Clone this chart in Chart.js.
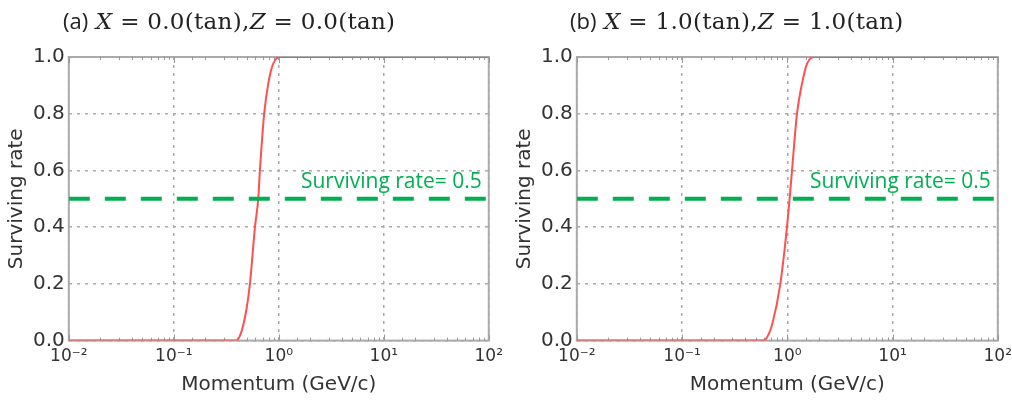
<!DOCTYPE html>
<html>
<head>
<meta charset="utf-8">
<script src="https://cdn.jsdelivr.net/npm/chart.js@4/dist/chart.umd.min.js"></script>
<style>
  body { margin: 0; background: #fff; width: 1012px; height: 403px; position: relative; overflow: hidden; }
  .panel { position: absolute; top: 0; height: 403px; }
  .title { position: absolute; top: 5px; font-family: "DejaVu Serif", serif; font-size: 23px; color: #222; white-space: nowrap; letter-spacing: 0.3px; }
  .title .lab { font-family: "Open Sans", sans-serif; font-size: 22px; letter-spacing: 0; }
  .title i { font-style: italic; }
</style>
</head>
<body>
<div class="panel" style="left:0px"><canvas id="chartA" width="509" height="403"></canvas></div>
<div class="panel" style="left:508px"><canvas id="chartB" width="510" height="403"></canvas></div>
<div class="title" style="left:63px"><span class="lab">(a)</span> <i>X</i> = 0.0(tan),<i>Z</i> = 0.0(tan)</div>
<div class="title" style="left:570px"><span class="lab">(b)</span> <i>X</i> = 1.0(tan),<i>Z</i> = 1.0(tan)</div>
<script>
// -------------------- Data --------------------
// momentum in GeV/c
const momentumA = [0.01, 0.1, 0.397, 0.43, 0.459, 0.494, 0.531, 0.593, 0.637, 0.661, 0.726, 0.794, 0.883, 1.023, 100];
const survivingA = [0, 0, 0, 0.02, 0.055, 0.114, 0.2, 0.4, 0.5, 0.6, 0.8, 0.906, 0.976, 1, 1];

const momentumB = [0.01, 0.1, 0.596, 0.66, 0.716, 0.859, 0.993, 1.052, 1.109, 1.236, 1.38, 1.538, 1.84, 100];
const survivingB = [0, 0, 0, 0.02, 0.055, 0.2, 0.4, 0.5, 0.6, 0.8, 0.906, 0.976, 1, 1];

const thresholdRate = 0.5;
const thresholdLabel = "Surviving rate= 0.5";
const xRange = [0.01, 100];
const yTicks = [0, 0.2, 0.4, 0.6, 0.8, 1.0];

const supers = { "-": "⁻", "0": "⁰", "1": "¹", "2": "²", "3": "³" };

function isPow10(v) {
  const l = Math.log10(v);
  return Math.abs(l - Math.round(l)) < 1e-9;
}

function powLabel(v) {
  const e = String(Math.round(Math.log10(v)));
  return "10" + e.split("").map(ch => supers[ch]).join("");
}

// -------------------- Plugins --------------------
const frame = {
  id: "frame",
  beforeDatasetsDraw(chart) {
    const { ctx, chartArea: a, scales } = chart;
    ctx.save();
    ctx.strokeStyle = "#aaa";
    ctx.lineWidth = 2;
    ctx.strokeRect(a.left, a.top, a.right - a.left, a.bottom - a.top);
    // small inside ticks on the log axis
    ctx.lineWidth = 1;
    ctx.strokeStyle = "#999";
    scales.x.ticks.forEach(t => {
      const px = Math.round(scales.x.getPixelForValue(t.value)) + 0.5;
      const len = isPow10(t.value) ? 6 : 3;
      ctx.beginPath();
      ctx.moveTo(px, a.bottom); ctx.lineTo(px, a.bottom - len);
      ctx.moveTo(px, a.top); ctx.lineTo(px, a.top + len);
      ctx.stroke();
    });
    ctx.restore();
  },
  afterDatasetsDraw(chart) {
    const { ctx, chartArea: a, scales } = chart;
    ctx.save();
    ctx.fillStyle = "#00b050";
    ctx.font = "21px 'Open Sans'";
    ctx.textAlign = "right";
    ctx.textBaseline = "alphabetic";
    ctx.fillText(thresholdLabel, a.right - 7, scales.y.getPixelForValue(thresholdRate) - 11);
    ctx.restore();
  }
};

// -------------------- Charts --------------------
function makeChart(id, xs, ys) {
  const curve = xs.map((x, i) => ({ x: x, y: ys[i] }));
  const line = xRange.map(x => ({ x: x, y: thresholdRate }));
  return new Chart(document.getElementById(id), {
    type: "line",
    data: {
      datasets: [
        {
          data: line,
          borderColor: "#00b050",
          borderWidth: 4,
          borderDash: [21, 15],
          pointRadius: 0,
        },
        {
          data: curve,
          borderColor: "#ff5050",
          borderWidth: 2,
          pointRadius: 0,
          cubicInterpolationMode: "monotone",
        },
      ],
    },
    options: {
      responsive: false,
      animation: false,
      layout: { padding: { left: 5, right: 7, top: 57, bottom: 6 } },
      plugins: { legend: { display: false }, tooltip: { enabled: false } },
      scales: {
        x: {
          type: "logarithmic",
          min: xRange[0],
          max: xRange[1],
          grid: {
            drawTicks: false,
            color: c => (c.tick && isPow10(c.tick.value) ? "#aaa" : "rgba(0,0,0,0)"),
            lineWidth: 1.5,
          },
          border: { display: false, dash: [3, 5] },
          ticks: {
            autoSkip: false,
            maxRotation: 0,
            padding: 6,
            color: "#333",
            font: { family: "DejaVu Sans", size: 17 },
            callback: v => (isPow10(v) ? powLabel(v) : ""),
          },
          title: {
            display: true,
            text: "Momentum (GeV/c)",
            color: "#333",
            font: { family: "DejaVu Sans", size: 20 },
            padding: { top: 0, bottom: 0 },
          },
        },
        y: {
          min: 0,
          max: 1,
          afterBuildTicks: s => { s.ticks = yTicks.map(v => ({ value: v })); },
          grid: { drawTicks: false, color: "#aaa", lineWidth: 1.5 },
          border: { display: false, dash: [3, 5] },
          ticks: {
            padding: 4,
            color: "#333",
            font: { family: "DejaVu Sans", size: 20 },
            callback: v => v.toFixed(1),
          },
          title: {
            display: true,
            text: "Surviving rate",
            color: "#333",
            font: { family: "DejaVu Sans", size: 20 },
            padding: 0,
          },
        },
      },
    },
    plugins: [frame],
  });
}

makeChart("chartA", momentumA, survivingA);
makeChart("chartB", momentumB, survivingB);
</script>
</body>
</html>
